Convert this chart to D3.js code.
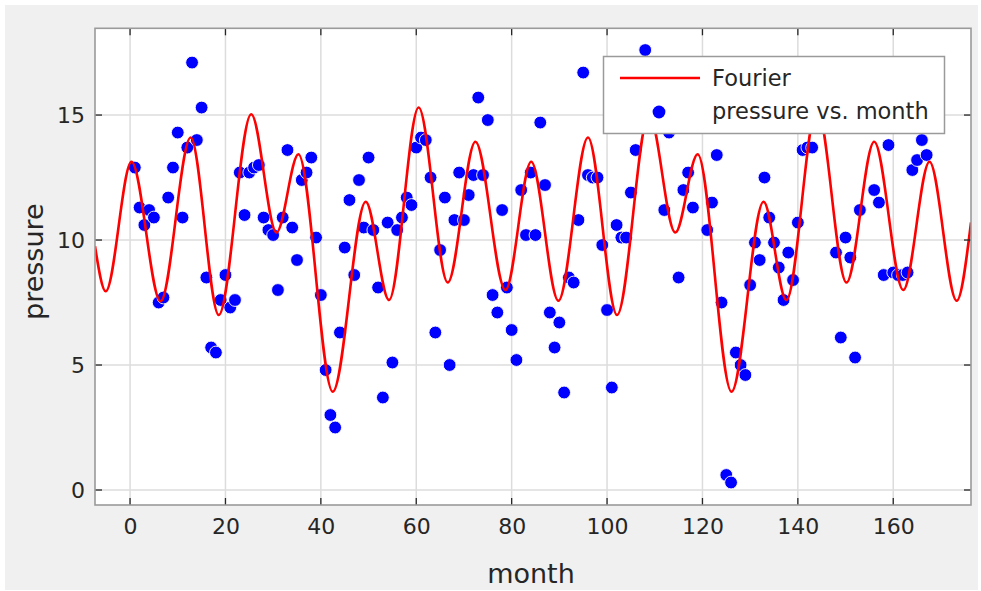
<!DOCTYPE html>
<html><head><meta charset="utf-8">
<script src="https://cdn.jsdelivr.net/npm/d3@7/dist/d3.min.js"></script>
<style>
body{margin:0;background:#fff;}
text{font-family:"DejaVu Sans",sans-serif;fill:#262626;}
</style>
</head><body>
<svg id="chart" width="981" height="591"></svg>
<script>
// ---- data ----
const months = d3.range(1, 169);
const pressure = [12.9,11.3,10.6,11.2,10.9,7.5,7.7,11.7,12.9,14.3,10.9,13.7,17.1,14.0,15.3,8.5,5.7,5.5,7.6,8.6,
7.3,7.6,12.7,11.0,12.7,12.9,13.0,10.9,10.4,10.2,8.0,10.9,13.6,10.5,9.2,12.4,12.7,13.3,10.1,7.8,
4.8,3.0,2.5,6.3,9.7,11.6,8.6,12.4,10.5,13.3,10.4,8.1,3.7,10.7,5.1,10.4,10.9,11.7,11.4,13.7,
14.1,14.0,12.5,6.3,9.6,11.7,5.0,10.8,12.7,10.8,11.8,12.6,15.7,12.6,14.8,7.8,7.1,11.2,8.1,6.4,
5.2,12.0,10.2,12.7,10.2,14.7,12.2,7.1,5.7,6.7,3.9,8.5,8.3,10.8,16.7,12.6,12.5,12.5,9.8,7.2,
4.1,10.6,10.1,10.1,11.9,13.6,16.3,17.6,15.5,16.0,15.2,11.2,14.3,14.5,8.5,12.0,12.7,11.3,14.5,15.1,
10.4,11.5,13.4,7.5,0.6,0.3,5.5,5.0,4.6,8.2,9.9,9.2,12.5,10.9,9.9,8.9,7.6,9.5,8.4,10.7,
13.6,13.7,13.7,16.5,16.8,17.1,15.4,9.5,6.1,10.1,9.3,5.3,11.2,16.6,15.6,12.0,11.5,8.6,13.8,8.7,
8.6,8.6,8.7,12.8,13.2,14.0,13.4,14.8];

// Fourier fit curve (turning points + ends)
const fitMonths = [-7.35,-5.1,0.3,6.4,12.7,18.6,25.4,30.7,35.3,42.5,49.4,54.3,60.5,66.6,72.4,78.7,84.1,89.8,
96.0,102.1,108.8,114.3,119.0,126.1,132.8,137.6,144.0,150.2,156.0,162.1,167.6,173.3,176.3];
const fitValues = [9.75,7.95,13.13,7.55,14.1,7.0,15.03,10.3,13.43,3.93,11.53,7.6,15.3,8.3,13.93,8.0,13.13,7.57,
14.1,7.0,15.03,10.3,13.43,3.93,11.53,7.6,15.3,8.3,13.93,8.0,13.13,7.57,10.7];

const xTicks = [0,20,40,60,80,100,120,140,160];
const yTicks = [0,5,10,15];
const xLabel = "month", yLabel = "pressure";
const legendLabels = ["Fourier", "pressure vs. month"];

// ---- layout ----
const L = 95, R = 971, T = 28.3, B = 505;
const svg = d3.select("#chart");
svg.append("rect").attr("x",0).attr("y",0).attr("width",981).attr("height",591).attr("fill","#fff");
svg.append("rect").attr("x",5).attr("y",5).attr("width",973).attr("height",585).attr("fill","#f0f0f0");

const x = d3.scaleLinear().domain([-7.35,176.3]).range([L,R]);
const y = d3.scaleLinear().domain([-0.6,18.47]).range([B,T]);

svg.append("rect").attr("x",L).attr("y",T).attr("width",R-L).attr("height",B-T).attr("fill","#fff");

// grid
const grid = svg.append("g");
grid.selectAll("line.gx").data(xTicks).join("line")
  .attr("x1",d=>x(d)).attr("x2",d=>x(d)).attr("y1",T).attr("y2",B)
  .attr("stroke","#dcdcdc").attr("stroke-width",1.5);
grid.selectAll("line.gy").data(yTicks).join("line")
  .attr("y1",d=>y(d)).attr("y2",d=>y(d)).attr("x1",L).attr("x2",R)
  .attr("stroke","#dcdcdc").attr("stroke-width",1.5);

const clip = svg.append("clipPath").attr("id","pc").append("rect")
  .attr("x",L).attr("y",T).attr("width",R-L).attr("height",B-T);
const plot = svg.append("g").attr("clip-path","url(#pc)");

// scatter
plot.selectAll("circle").data(months).join("circle")
  .attr("cx",(d,i)=>x(d)).attr("cy",(d,i)=>y(pressure[i])).attr("r",6.4)
  .attr("fill","#0000ff").attr("stroke","#fff").attr("stroke-width",0.9);

// fit
const line = d3.line().x(d=>x(d[0])).y(d=>y(d[1])).curve(d3.curveMonotoneX);
plot.append("path").datum(fitMonths.map((m,i)=>[m,fitValues[i]]))
  .attr("d",line).attr("fill","none").attr("stroke","#ff0000").attr("stroke-width",2.6);

// axes (box + ticks)
const axX = d3.axisBottom(x).tickValues(xTicks).tickSize(0).tickPadding(13);
const axY = d3.axisLeft(y).tickValues(yTicks).tickSize(0).tickPadding(10);
const gx = svg.append("g").attr("transform",`translate(0,${B})`).call(axX);
const gy = svg.append("g").attr("transform",`translate(${L},0)`).call(axY);
[gx,gy].forEach(g=>{g.select(".domain").remove(); g.selectAll("text").attr("font-size",22).attr("fill","#262626").attr("font-family","DejaVu Sans");});

const tk = svg.append("g").attr("stroke","#262626").attr("stroke-width",1.3);
xTicks.forEach(v=>{
  tk.append("line").attr("x1",x(v)).attr("x2",x(v)).attr("y1",B).attr("y2",B-7);
  tk.append("line").attr("x1",x(v)).attr("x2",x(v)).attr("y1",T).attr("y2",T+7);
});
yTicks.forEach(v=>{
  tk.append("line").attr("y1",y(v)).attr("y2",y(v)).attr("x1",L).attr("x2",L+7);
  tk.append("line").attr("y1",y(v)).attr("y2",y(v)).attr("x1",R).attr("x2",R-7);
});
svg.append("rect").attr("x",L).attr("y",T).attr("width",R-L).attr("height",B-T)
  .attr("fill","none").attr("stroke","#9a9a9a").attr("stroke-width",1.6);

// axis labels
svg.append("text").attr("x",(L+R)/2-2).attr("y",583).attr("text-anchor","middle")
  .attr("font-size",27).text(xLabel);
svg.append("text").attr("transform",`translate(43,${(T+B)/2-5}) rotate(-90)`).attr("text-anchor","middle")
  .attr("font-size",27).text(yLabel);

// legend
const lg = svg.append("g");
lg.append("rect").attr("x",603.5).attr("y",56.5).attr("width",341).attr("height",77)
  .attr("fill","#fff").attr("stroke","#9a9a9a").attr("stroke-width",1.5);
lg.append("line").attr("x1",620).attr("x2",700).attr("y1",78).attr("y2",78)
  .attr("stroke","#ff0000").attr("stroke-width",2.6);
lg.append("circle").attr("cx",659).attr("cy",112).attr("r",6.4).attr("fill","#0000ff");
lg.append("text").attr("x",712).attr("y",86).attr("font-size",22.5).text(legendLabels[0]);
lg.append("text").attr("x",712).attr("y",119).attr("font-size",22.5).text(legendLabels[1]);
</script>
</body></html>
